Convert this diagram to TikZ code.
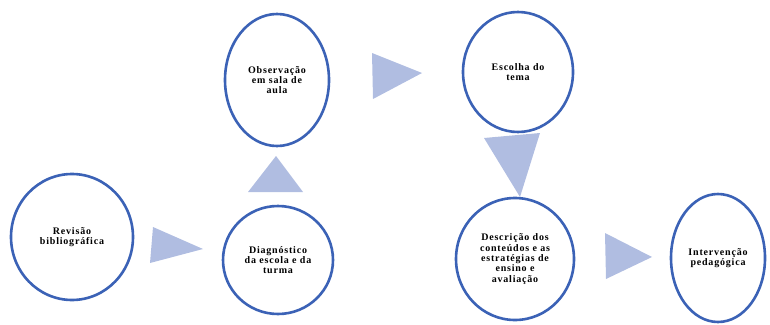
\documentclass[tikz,border=0pt]{standalone}
\usepackage{fontspec}
\newfontfamily\rotulo{Liberation Serif}[LetterSpace=8]
\usepackage{tikz}
\usetikzlibrary{shapes.geometric}
\definecolor{borda}{RGB}{59,98,182}
\definecolor{cinzaazul}{RGB}{176,189,225}

\begin{document}
\begin{tikzpicture}[x=1pt, y=-1pt,
	etapa/.style={ellipse, draw=borda, line width=2.6pt, fill=white, inner sep=0pt,
		align=center, font=\rotulo\bfseries\fontsize{10}{10.4}\selectfont},
	seta/.style={fill=cinzaazul}]
	% page size
	\useasboundingbox (0,0) rectangle (770,324);

	% draw stages
	\node[etapa, minimum width=122, minimum height=126] (revisao) at (72,237) {Revisão\\bibliográfica};
	\node[etapa, minimum width=110, minimum height=108] (diagnostico) at (278,260) {Diagnóstico\\da escola e da\\turma};
	\node[etapa, minimum width=104, minimum height=132] (observacao) at (277,80) {Observação\\em sala de\\aula};
	\node[etapa, minimum width=110, minimum height=120] (escolha) at (518,72) {Escolha do\\tema};
	\node[etapa, minimum width=118, minimum height=122] (descricao) at (515,259) {Descrição dos\\conteúdos e as\\estratégias de\\ensino e\\avaliação};
	\node[etapa, minimum width=94, minimum height=128] (intervencao) at (718,258) {Intervenção\\pedagógica};

	% draw arrows
	\foreach \ax/\ay/\bx/\by/\cx/\cy in {153/227/150/263/203/249, 248/192/303/192/276/156,
		372/53/373/99/422/73, 484/138/540/133/520/197, 605/233/606/279/652/257}
	\fill[seta] (\ax,\ay) -- (\bx,\by) -- (\cx,\cy) -- cycle;
\end{tikzpicture}
\end{document}
